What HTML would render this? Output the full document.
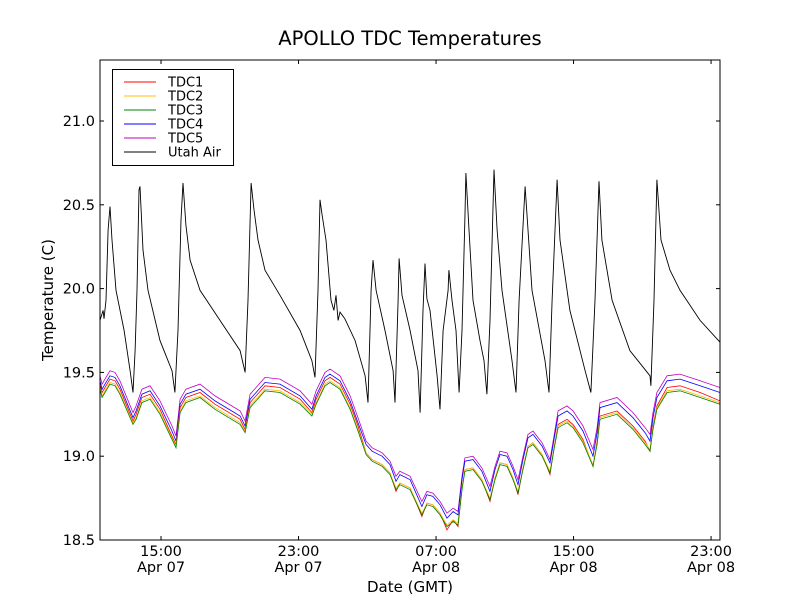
<!DOCTYPE html>
<html><head><meta charset="utf-8"><style>
html,body{margin:0;padding:0;background:#fff;}
svg{display:block;font-family:"DejaVu Sans","Liberation Sans",sans-serif;}
</style></head><body>
<svg id="chart" width="800" height="600" viewBox="0 0 800 600" xmlns="http://www.w3.org/2000/svg">
<rect width="800" height="600" fill="#fff"/>
<text x="410" y="45" font-size="19.5" text-anchor="middle">APOLLO TDC Temperatures</text>
<text x="410" y="592" font-size="15" text-anchor="middle">Date (GMT)</text>
<text x="53" y="300" font-size="15" text-anchor="middle" transform="rotate(-90 53 300)">Temperature (C)</text>
<g id="plot"></g>
<g id="axes"></g>
<g id="legend"></g>
</svg>
<script>
const tdcHours=[11.45,11.57,11.74,12.03,12.32,12.61,13.37,13.55,13.89,14.36,14.94,15.64,15.87,16.11,16.45,17.27,18.14,19.60,19.89,20.18,21.05,21.92,23.09,23.78,24.02,24.54,24.83,25.41,26.00,26.46,26.93,27.28,27.86,28.32,28.67,28.90,29.49,30.18,30.47,30.82,31.23,31.64,31.99,32.28,32.51,32.68,33.15,33.67,34.14,34.43,34.72,35.13,35.48,35.77,36.06,36.35,36.64,37.17,37.63,37.86,38.10,38.62,38.97,39.55,40.13,40.37,40.54,41.53,42.46,43.16,43.45,43.62,43.85,44.44,45.19,46.36,47.52];
const tdc1=[19.43,19.38,19.41,19.46,19.45,19.40,19.21,19.25,19.35,19.37,19.28,19.12,19.07,19.29,19.35,19.38,19.31,19.22,19.16,19.32,19.42,19.41,19.34,19.26,19.34,19.45,19.47,19.43,19.31,19.18,19.02,18.98,18.95,18.90,18.79,18.84,18.81,18.64,18.72,18.71,18.66,18.56,18.62,18.58,18.81,18.92,18.93,18.86,18.73,18.87,18.96,18.95,18.87,18.77,18.93,19.06,19.08,19.01,18.89,19.05,19.19,19.22,19.19,19.10,18.94,19.09,19.24,19.27,19.18,19.09,19.03,19.18,19.30,19.41,19.42,19.38,19.33];
const tdc2=[19.41,19.36,19.39,19.44,19.43,19.38,19.20,19.23,19.33,19.35,19.26,19.11,19.06,19.27,19.33,19.36,19.29,19.20,19.15,19.30,19.40,19.39,19.32,19.25,19.32,19.43,19.45,19.41,19.29,19.16,19.02,18.98,18.95,18.90,18.81,18.84,18.81,18.66,18.72,18.71,18.66,18.59,18.62,18.60,18.81,18.92,18.93,18.86,18.75,18.87,18.96,18.95,18.87,18.79,18.93,19.06,19.08,19.01,18.91,19.05,19.18,19.21,19.18,19.09,18.95,19.08,19.23,19.26,19.17,19.08,19.04,19.17,19.29,19.39,19.40,19.36,19.32];
const tdc3=[19.40,19.35,19.38,19.43,19.42,19.37,19.19,19.22,19.32,19.34,19.25,19.10,19.05,19.26,19.32,19.35,19.28,19.19,19.14,19.29,19.39,19.38,19.31,19.24,19.31,19.42,19.44,19.40,19.28,19.15,19.01,18.97,18.94,18.89,18.80,18.83,18.80,18.65,18.71,18.70,18.65,18.58,18.61,18.59,18.80,18.91,18.92,18.85,18.74,18.86,18.95,18.94,18.86,18.78,18.92,19.05,19.07,19.00,18.90,19.04,19.17,19.20,19.17,19.08,18.94,19.07,19.22,19.25,19.16,19.07,19.03,19.16,19.28,19.38,19.39,19.35,19.31];
const tdc4=[19.45,19.40,19.43,19.48,19.47,19.42,19.23,19.27,19.37,19.39,19.30,19.15,19.09,19.31,19.37,19.40,19.33,19.24,19.18,19.34,19.44,19.43,19.36,19.28,19.36,19.47,19.49,19.45,19.33,19.20,19.07,19.03,19.00,18.95,18.85,18.89,18.86,18.70,18.77,18.76,18.71,18.63,18.67,18.65,18.86,18.97,18.98,18.91,18.79,18.92,19.01,19.00,18.92,18.83,18.98,19.11,19.13,19.06,18.96,19.10,19.24,19.27,19.24,19.15,19.00,19.14,19.29,19.32,19.23,19.14,19.09,19.23,19.35,19.45,19.46,19.42,19.38];
const tdc5=[19.48,19.43,19.46,19.51,19.50,19.45,19.26,19.30,19.40,19.42,19.33,19.18,19.12,19.34,19.40,19.43,19.36,19.27,19.21,19.37,19.47,19.46,19.39,19.31,19.39,19.50,19.52,19.48,19.36,19.23,19.09,19.05,19.02,18.97,18.88,18.91,18.88,18.73,18.79,18.78,18.73,18.66,18.69,18.67,18.88,18.99,19.00,18.93,18.82,18.94,19.03,19.02,18.94,18.86,19.00,19.13,19.15,19.08,18.98,19.12,19.27,19.30,19.27,19.18,19.04,19.17,19.32,19.35,19.26,19.17,19.13,19.26,19.38,19.48,19.49,19.45,19.41];
const airHours=[11.45,11.63,11.68,11.80,11.92,12.03,12.15,12.38,12.85,13.20,13.37,13.49,13.60,13.72,13.78,13.95,14.24,14.94,15.64,15.81,15.99,16.16,16.28,16.45,16.69,17.27,18.43,19.60,19.89,20.06,20.24,20.41,20.64,21.05,21.92,23.09,23.78,23.96,24.13,24.25,24.37,24.60,24.89,25.06,25.18,25.30,25.41,25.70,26.29,26.87,27.04,27.22,27.33,27.51,28.03,28.50,28.61,28.79,28.85,29.02,29.49,29.95,30.07,30.24,30.36,30.47,30.65,31.06,31.23,31.41,31.70,31.75,31.93,32.16,32.34,32.51,32.68,32.74,32.92,33.15,33.56,33.79,33.96,34.14,34.37,34.55,34.84,35.42,35.65,35.83,36.18,36.29,36.58,37.34,37.57,37.75,38.04,38.21,38.79,39.67,40.01,40.25,40.48,40.65,41.24,42.28,43.45,43.50,43.68,43.85,44.09,44.61,45.19,46.36,47.52];
const airTemps=[19.81,19.87,19.82,19.93,20.35,20.49,20.29,19.99,19.75,19.51,19.38,19.63,19.99,20.59,20.61,20.23,19.99,19.69,19.51,19.38,19.75,20.41,20.63,20.38,20.17,19.99,19.81,19.63,19.50,19.93,20.63,20.47,20.29,20.11,19.96,19.75,19.57,19.47,19.99,20.53,20.44,20.29,19.93,19.87,19.96,19.81,19.86,19.82,19.69,19.48,19.32,19.99,20.17,19.99,19.75,19.51,19.32,19.93,20.18,19.96,19.75,19.51,19.26,19.87,20.15,19.94,19.87,19.48,19.28,19.75,19.99,20.11,19.93,19.75,19.38,19.75,20.42,20.69,20.35,19.93,19.69,19.57,19.37,19.81,20.71,20.35,19.99,19.57,19.38,19.93,20.61,20.44,19.99,19.57,19.38,19.93,20.65,20.29,19.87,19.51,19.38,19.93,20.64,20.29,19.93,19.63,19.48,19.42,19.93,20.65,20.29,20.11,19.99,19.81,19.68];
const seriesNames=["TDC1","TDC2","TDC3","TDC4","TDC5","Utah Air"];
const yTicks=[18.5,19.0,19.5,20.0,20.5,21.0];
const xTickHours=[15,23,31,39,47];
const xTickTimes=["15:00","23:00","07:00","15:00","23:00"];
const xTickDates=["Apr 07","Apr 07","Apr 08","Apr 08","Apr 08"];

const NS="http://www.w3.org/2000/svg";
const L=100,R=720,T=60,B=540,H0=11.45,H1=47.52,Y0=18.5,Y1=21.364;
function xs(h){return L+(h-H0)/(H1-H0)*(R-L);}
function ys(v){return B-(v-Y0)/(Y1-Y0)*(B-T);}
function mk(tag,attrs,parent){const e=document.createElementNS(NS,tag);for(const k in attrs)e.setAttribute(k,attrs[k]);parent.appendChild(e);return e;}
const plot=document.getElementById('plot'),axes=document.getElementById('axes'),leg=document.getElementById('legend');
const cp=mk('clipPath',{id:'clip'},plot);mk('rect',{x:L,y:T,width:R-L,height:B-T},cp);
const colors=["#ff0000","#ffbf00","#008000","#0000ff","#bf00bf","#000000"];
const datas=[[tdcHours,tdc1],[tdcHours,tdc2],[tdcHours,tdc3],[tdcHours,tdc4],[tdcHours,tdc5],[airHours,airTemps]];
const order=[5,4,3,0,1,2];
order.forEach(i=>{
  const [hs,vs]=datas[i];
  const d=hs.map((h,j)=>(j?'L':'M')+xs(h).toFixed(1)+' '+ys(vs[j]).toFixed(1)).join(' ');
  const p=mk('path',{d:d,fill:'none',stroke:colors[i],'stroke-width':i==5?0.9:0.8,'clip-path':'url(#clip)'},plot);
  
  
});
const fr=mk('rect',{x:L,y:T,width:R-L,height:B-T,fill:'none',stroke:'#000','stroke-width':1},axes);


yTicks.forEach(v=>{
  const y=ys(v);
  mk('line',{x1:L,x2:L+4,y1:y,y2:y,stroke:'#000'},axes);
  mk('line',{x1:R,x2:R-4,y1:y,y2:y,stroke:'#000'},axes);
  const t=mk('text',{x:L-5,y:y+5,'font-size':14.5,'text-anchor':'end'},axes);
  t.textContent=v.toFixed(1);
  
  
});
xTickHours.forEach((h,i)=>{
  const x=xs(h);
  mk('line',{x1:x,x2:x,y1:B,y2:B-4,stroke:'#000'},axes);
  mk('line',{x1:x,x2:x,y1:T,y2:T+4,stroke:'#000'},axes);
  const t=mk('text',{x:x,y:B+16,'font-size':14.5,'text-anchor':'middle'},axes);
  t.textContent=xTickTimes[i];
  
  
  const t2=mk('text',{x:x,y:B+32,'font-size':14.5,'text-anchor':'middle'},axes);
  t2.textContent=xTickDates[i];
  
  
});
const lb=mk('rect',{x:112.5,y:69.5,width:121,height:96,fill:'#fff',stroke:'#000','stroke-width':1},leg);


seriesNames.forEach((n,i)=>{
  const y=82+i*14;
  const g=mk('g',{},leg);
  
  
  mk('line',{x1:124,x2:156,y1:y,y2:y,stroke:colors[i],'stroke-width':0.9},g);
  const t=mk('text',{x:168,y:y+4.5,'font-size':13},g);
  t.textContent=n;
});
</script>
</body></html>
